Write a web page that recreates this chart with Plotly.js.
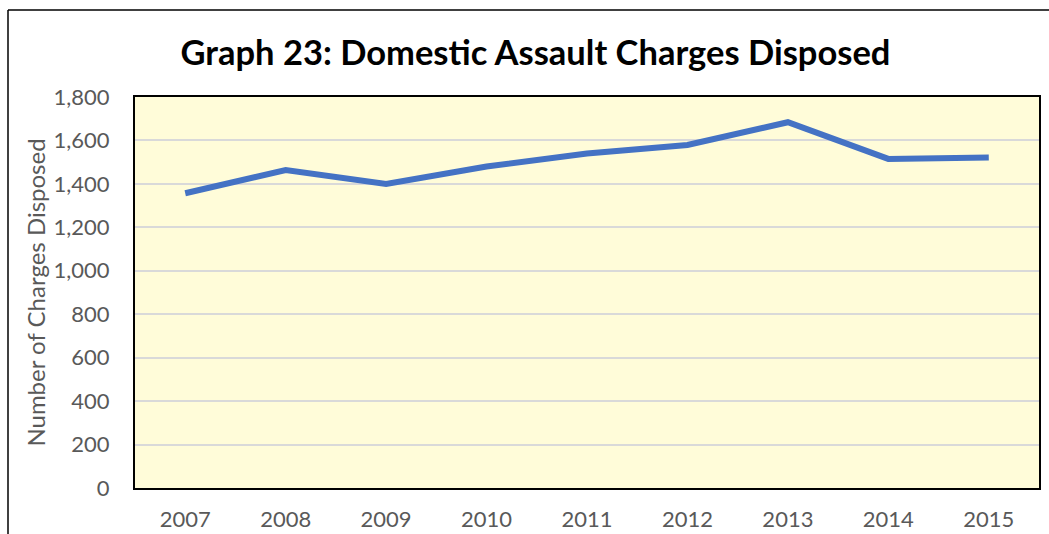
<!DOCTYPE html>
<html>
<head>
<meta charset="utf-8">
<script src="https://cdn.plot.ly/plotly-3.0.1.min.js"></script>
<style>html,body{margin:0;padding:0;background:#fff;}#chart{width:1049px;height:534px;}</style>
</head>
<body>
<div id="chart"></div>
<script>
const years = ["2007","2008","2009","2010","2011","2012","2013","2014","2015"];
const chargesDisposed = [1357, 1464, 1400, 1480, 1540, 1579, 1684, 1515, 1521];
const yTickValues = [0, 200, 400, 600, 800, 1000, 1200, 1400, 1600, 1800];
const yTickLabels = ["0","200","400","600","800","1,000","1,200","1,400","1,600","1,800"];

const L = 135, R = 10, T = 97, B = 46, W = 1049, H = 534;
const pw = W - L - R, ph = H - T - B;

const trace = {
  x: years, y: chargesDisposed, type: "scatter", mode: "lines",
  line: {color: "#4472C4", width: 6}, hoverinfo: "skip"
};

const layout = {
  width: W, height: H,
  margin: {l: L, r: R, t: T, b: B, pad: 0},
  paper_bgcolor: "#ffffff",
  plot_bgcolor: "#FFFCD9",
  showlegend: false,
  font: {family: "Lato, 'Liberation Sans', sans-serif", color: "#595959"},
  title: {
    text: "<b>Graph 23: Domestic Assault Charges Disposed</b>",
    font: {size: 34.5, color: "#000000", family: "Lato, sans-serif"},
    x: 0.443, xanchor: "center", xref: "paper",
    y: 1 - 53 / H, yanchor: "middle", yref: "container"
  },
  xaxis: {
    type: "category", range: [-0.5, years.length - 0.5],
    showline: true, mirror: true, linecolor: "#000000", linewidth: 2,
    showgrid: false, zeroline: false,
    ticks: "outside", ticklen: 11, tickcolor: "rgba(0,0,0,0)",
    tickfont: {size: 22, color: "#595959"}
  },
  yaxis: {
    range: [0, 1800],
    tickvals: yTickValues, ticktext: yTickLabels,
    showline: true, mirror: true, linecolor: "#000000", linewidth: 2,
    showgrid: true, gridcolor: "#D9D9D9", gridwidth: 2,
    zeroline: false,
    ticks: "outside", ticklen: 19, tickcolor: "rgba(0,0,0,0)",
    tickfont: {size: 22, color: "#595959"},
    title: {text: "Number of Charges Disposed", font: {size: 24, color: "#595959"}, standoff: 1}
  },
  shapes: [
    {type: "line", xref: "paper", yref: "paper",
     x0: (8 - L) / pw, x1: (W + 5 - L) / pw, y0: (H - B - 10) / ph, y1: (H - B - 10) / ph,
     line: {color: "#000000", width: 1.5}},
    {type: "line", xref: "paper", yref: "paper",
     x0: (8 - L) / pw, x1: (8 - L) / pw, y0: (H - B - 10) / ph, y1: -(B + 5) / ph,
     line: {color: "#000000", width: 1.5}}
  ]
};

Plotly.newPlot("chart", [trace], layout, {displayModeBar: false, staticPlot: true});
</script>
</body>
</html>
